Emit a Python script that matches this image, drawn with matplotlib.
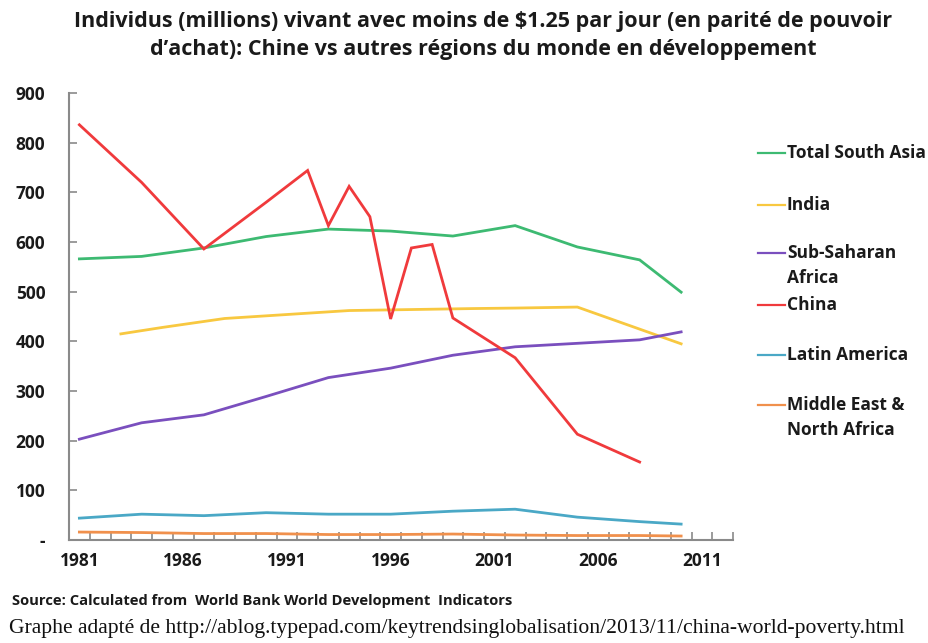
import matplotlib
matplotlib.use("Agg")
import matplotlib.pyplot as plt
from matplotlib.lines import Line2D
from matplotlib.ticker import FixedLocator, NullFormatter

# Millions of people living on less than $1.25 a day (PPP)
years_sa = [1981, 1984, 1987, 1990, 1993, 1996, 1999, 2002, 2005, 2008, 2010]
south_asia = [566, 571, 588, 611, 626, 622, 612, 633, 590, 564, 499]

years_india = [1983, 1985, 1988, 1991, 1994, 1997, 2000, 2002, 2005, 2010]
india = [415, 428, 446, 454, 462, 464, 466, 467, 469, 395]

years_ssa = [1981, 1984, 1987, 1990, 1993, 1996, 1999, 2002, 2005, 2008, 2010]
ssa = [203, 236, 252, 289, 327, 346, 372, 389, 396, 403, 419]

years_china = [1981, 1984, 1987, 1990, 1992, 1993, 1994, 1995, 1996, 1997, 1998,
               1999, 2002, 2005, 2008]
china = [836, 720, 586, 680, 744, 633, 712, 651, 445, 588, 595, 447, 367, 213, 157]

years_la = [1981, 1984, 1987, 1990, 1993, 1996, 1999, 2002, 2005, 2008, 2010]
latam = [44, 52, 49, 55, 52, 52, 58, 62, 46, 37, 32]

years_mena = [1981, 1984, 1987, 1990, 1993, 1996, 1999, 2002, 2005, 2008, 2010]
mena = [16, 15, 13, 13, 11, 11, 12, 10, 9, 9, 8]

x_tick_years = [1981, 1986, 1991, 1996, 2001, 2006, 2011]
y_ticks = [0, 100, 200, 300, 400, 500, 600, 700, 800, 900]
y_tick_labels = ["-", "100", "200", "300", "400", "500", "600", "700", "800", "900"]

series = [
    ("Total South Asia", years_sa, south_asia, "#3dba72"),
    ("India", years_india, india, "#f8c840"),
    ("Sub-Saharan\nAfrica", years_ssa, ssa, "#7a4fbe"),
    ("China", years_china, china, "#f03a3c"),
    ("Latin America", years_la, latam, "#4aa8c6"),
    ("Middle East &\nNorth Africa", years_mena, mena, "#f0904c"),
]

SANS = "Open Sans"
INK = "#1a1a1a"

W, H = 929, 643
fig = plt.figure(figsize=(W / 100, H / 100), dpi=100)
fig.patch.set_facecolor("white")

ax_left, ax_right, ax_top, ax_bottom = 69, 733, 93, 540
ax = fig.add_axes([ax_left / W, 1 - ax_bottom / H,
                   (ax_right - ax_left) / W, (ax_bottom - ax_top) / H])

for label, xs, ys, color in series:
    ax.plot(xs, ys, color=color, lw=2.0, solid_joinstyle="miter", clip_on=False)

ax.set_xlim(1980.5, 2012.5)
ax.set_ylim(0, 900)

for side in ("top", "right"):
    ax.spines[side].set_visible(False)
for side in ("left", "bottom"):
    ax.spines[side].set_color("#8a8a8a")
    ax.spines[side].set_linewidth(1.5)

ax.set_yticks(y_ticks)
ax.set_yticklabels(y_tick_labels)
ax.tick_params(axis="y", direction="in", length=6, width=1.2, color="#8a8a8a",
               pad=17, labelsize=12.5)

ax.set_xticks(x_tick_years)
ax.set_xticklabels([str(y) for y in x_tick_years])
ax.tick_params(axis="x", which="major", length=0, pad=9, labelsize=12.5)
ax.xaxis.set_minor_locator(FixedLocator([1980.5 + k for k in range(33)]))
ax.xaxis.set_minor_formatter(NullFormatter())
ax.tick_params(axis="x", which="minor", direction="in", length=6, width=1.2,
               color="#8a8a8a")

for lbl in ax.get_xticklabels() + ax.get_yticklabels():
    lbl.set_fontfamily(SANS)
    lbl.set_fontweight("bold")
    lbl.set_color(INK)

# Legend drawn at the right of the plot area
legend_y = [153, 205, 253, 305, 355, 405]
line_gap = 25
for (label, _, _, color), ly in zip(series, legend_y):
    fig.add_artist(Line2D([758 / W, 785 / W], [1 - ly / H, 1 - ly / H], color=color,
                          lw=1.6, transform=fig.transFigure))
    for i, part in enumerate(label.split("\n")):
        fig.text(787 / W, 1 - (ly + i * line_gap) / H, part, ha="left", va="center",
                 fontsize=12.5, fontweight="bold", family=SANS, color=INK)

# Title
title_x = 483 / W
fig.text(title_x, 1 - 21 / H,
         "Individus (millions) vivant avec moins de $1.25 par jour (en parité de pouvoir",
         ha="center", va="center", fontsize=15.5, fontweight="bold", family=SANS,
         color=INK)
fig.text(title_x, 1 - 50 / H,
         "d’achat): Chine vs autres régions du monde en développement",
         ha="center", va="center", fontsize=15.5, fontweight="bold", family=SANS,
         color=INK)

# Source notes
fig.text(12 / W, 1 - 601 / H,
         "Source: Calculated from  World Bank World Development  Indicators",
         ha="left", va="center", fontsize=10.6, fontweight="bold", family=SANS,
         color=INK)
fig.text(9 / W, 1 - 628 / H,
         "Graphe adapté de http://ablog.typepad.com/keytrendsinglobalisation/2013/11/china-world-poverty.html",
         ha="left", va="center", fontsize=15.6, family="Liberation Serif",
         color="#111111")

fig.savefig("out.png", dpi=100, facecolor="white")
